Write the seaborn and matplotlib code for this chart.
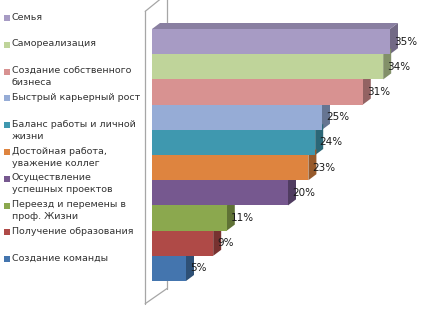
import numpy as np
import seaborn as sns
import matplotlib.pyplot as plt
from matplotlib.patches import Polygon
from matplotlib.colors import to_rgb
from matplotlib.transforms import ScaledTranslation

# данные
categories = [
    "Семья",
    "Самореализация",
    "Создание собственного\nбизнеса",
    "Быстрый карьерный рост",
    "Баланс работы и личной\nжизни",
    "Достойная работа,\nуважение коллег",
    "Осуществление\nуспешных проектов",
    "Переезд и перемены в\nпроф. Жизни",
    "Получение образования",
    "Создание команды",
]
values = [35, 34, 31, 25, 24, 23, 20, 11, 9, 5]
colors = ["#A79BC4", "#BFD49A", "#D89291", "#96ACD6", "#3F98AF",
          "#DE843F", "#76588F", "#8BA84E", "#AF4A47", "#4475AE"]

def darker(c, k=0.68):
    return tuple(v * k for v in to_rgb(c))

def main():
    sns.set_style("white")
    plt.rcParams["font.family"] = ["DejaVu Sans"]

    fig = plt.figure(figsize=(4.24, 3.12), dpi=100, facecolor="white")

    # основная область с барами
    ax = fig.add_axes([152 / 424, 31 / 312, 272 / 424, 252 / 312])
    sns.barplot(x=values, y=categories, hue=categories, palette=colors,
                orient="h", width=1.0, saturation=1, legend=False,
                linewidth=0, ax=ax, zorder=3)
    ax.set_xlim(0, 40)
    ax.set_ylim(9.5, -0.5)
    ax.axis("off")

    # глубина 3D эффекта в единицах данных (8px вправо, 6px вверх)
    dx, dy = 8 / 6.8, 6 / 25.2

    # стенка слева
    wall_kw = dict(color="#A6A6A6", lw=0.9, clip_on=False, zorder=1)
    ax.plot([-1.0, -1.0], [10.4, -1.2], **wall_kw)
    ax.plot([2.2, 2.2], [9.8, -1.9], **wall_kw)
    ax.plot([-1.0, 2.2], [10.4, 9.8], **wall_kw)
    ax.plot([-1.0, 2.2], [-1.2, -1.9], **wall_kw)

    # боковые грани
    for i, (v, c) in enumerate(zip(values, colors)):
        side = Polygon([(v, i - 0.5), (v + dx, i - 0.5 - dy),
                        (v + dx, i + 0.5 - dy), (v, i + 0.5)],
                       closed=True, fc=darker(c), ec="none",
                       clip_on=False, zorder=2)
        ax.add_patch(side)
        ax.text(v + 0.6, i, f"{v}%", ha="left", va="center",
                fontsize=7.5, color="#1A1A1A", zorder=5, clip_on=False)

    # верхняя грань первого бара
    top = Polygon([(0, -0.5), (dx, -0.5 - dy), (values[0] + dx, -0.5 - dy),
                   (values[0], -0.5)], closed=True,
                  fc=darker(colors[0], 0.82), ec="none", clip_on=False, zorder=2)
    ax.add_patch(top)

    # легенда слева
    lax = fig.add_axes([0, 0, 148 / 424, 1])
    lax.set_xlim(0, 148)
    lax.set_ylim(312, 0)
    lax.axis("off")
    shift = lax.transData + ScaledTranslation(0, 5.5 / 100, fig.dpi_scale_trans)
    for i, (lab, c) in enumerate(zip(categories, colors)):
        y = 18 + i * 26.8
        lax.scatter([6.5], [y], marker="s", s=18, color=c, linewidths=0)
        lax.text(12, y, lab, ha="left", va="top", fontsize=6.8,
                 color="#333333", linespacing=1.45, transform=shift)

    plt.savefig("out.png", dpi=100, facecolor="white")
    plt.close()

if __name__ == "__main__":
    main()
